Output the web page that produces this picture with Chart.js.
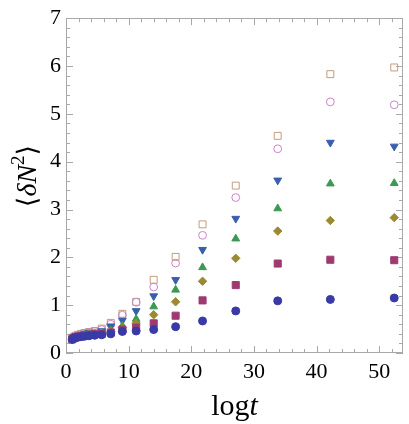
<!DOCTYPE html>
<html>
<head>
<meta charset="utf-8">
<script src="https://cdn.jsdelivr.net/npm/chart.js@4.4.1/dist/chart.umd.min.js"></script>
<style>
  html, body { margin: 0; padding: 0; background: #fff; }
  #box { width: 409px; height: 424px; }
</style>
</head>
<body>
<div id="box"><canvas id="grafico" width="409" height="424"></canvas></div>
<script>
// valores
const logT = [1.0, 1.24, 1.54, 1.91, 2.38, 2.96, 3.68, 4.58, 5.7, 7.15, 9.0, 11.2, 14.0, 17.5, 21.8, 27.1, 33.8, 42.2, 52.4];

const quadAberto = [0.31, 0.34, 0.36, 0.38, 0.40, 0.42, 0.44, 0.46, 0.51, 0.63, 0.82, 1.07, 1.53, 2.01, 2.69, 3.50, 4.54, 5.83, 5.97];
const circAberto = [0.30, 0.33, 0.35, 0.37, 0.39, 0.41, 0.43, 0.45, 0.49, 0.60, 0.79, 1.06, 1.38, 1.88, 2.46, 3.25, 4.27, 5.25, 5.19];
const trianBaixo = [0.30, 0.33, 0.35, 0.36, 0.38, 0.40, 0.42, 0.43, 0.46, 0.56, 0.68, 0.88, 1.19, 1.53, 2.16, 2.81, 3.61, 4.40, 4.32];
const trianCima  = [0.29, 0.32, 0.34, 0.35, 0.37, 0.38, 0.40, 0.41, 0.43, 0.47, 0.57, 0.71, 0.97, 1.32, 1.79, 2.39, 3.02, 3.54, 3.55];
const losango    = [0.29, 0.32, 0.33, 0.35, 0.36, 0.37, 0.39, 0.40, 0.42, 0.45, 0.53, 0.62, 0.80, 1.07, 1.50, 1.98, 2.55, 2.77, 2.83];
const quadrado   = [0.29, 0.31, 0.33, 0.34, 0.35, 0.36, 0.38, 0.39, 0.40, 0.43, 0.49, 0.53, 0.62, 0.78, 1.10, 1.42, 1.87, 1.95, 1.94];
const circulo    = [0.28, 0.31, 0.32, 0.33, 0.34, 0.35, 0.36, 0.37, 0.38, 0.40, 0.45, 0.46, 0.49, 0.55, 0.67, 0.88, 1.09, 1.12, 1.15];

const xTicks = [0, 10, 20, 30, 40, 50];
const yTicks = [0, 1, 2, 3, 4, 5, 6, 7];

const SERIF = '"Liberation Serif", "Times New Roman", serif';
const CINZA = '#a8a8a8';

function pontos(ys) {
    return ys.map((y, i) => ({ x: logT[i], y: y }));
}

function serie(ys, estilo, cor, cheio, raio, rot) {
    return {
        data: pontos(ys),
        pointStyle: estilo,
        pointRadius: raio,
        pointHoverRadius: raio,
        rotation: rot || 0,
        borderColor: cor,
        backgroundColor: cheio ? cor : 'rgba(255,255,255,0)',
        borderWidth: 1,
        showLine: false
    };
}

const moldura = {
    id: 'moldura',
    beforeDatasetsDraw(chart) {
        const { ctx, chartArea: a, scales: { x, y } } = chart;
        ctx.save();
        ctx.strokeStyle = CINZA;
        ctx.lineWidth = 1;
        ctx.strokeRect(Math.round(a.left) + 0.5, Math.round(a.top) + 0.5,
            Math.round(a.right - a.left) - 1, Math.round(a.bottom - a.top) - 1);
        ctx.beginPath();
        for (let v = 0; v <= 52; v += 2) {
            const px = Math.round(x.getPixelForValue(v)) + 0.5;
            const len = v % 10 === 0 ? 7 : 4;
            ctx.moveTo(px, a.bottom); ctx.lineTo(px, a.bottom - len);
            ctx.moveTo(px, a.top); ctx.lineTo(px, a.top + len);
        }
        for (let k = 0; k <= 35; k++) {
            const v = k / 5;
            const py = Math.round(y.getPixelForValue(v)) + 0.5;
            const len = k % 5 === 0 ? 7 : 4;
            ctx.moveTo(a.left, py); ctx.lineTo(a.left + len, py);
            ctx.moveTo(a.right, py); ctx.lineTo(a.right - len, py);
        }
        ctx.stroke();
        ctx.restore();
    },
    afterDraw(chart) {
        const { ctx, chartArea: a } = chart;
        ctx.save();
        ctx.fillStyle = '#000';
        ctx.textBaseline = 'alphabetic';

        // eixo x: log t
        const fN = '30px ' + SERIF, fI = 'italic 30px ' + SERIF;
        ctx.font = fN; const w1 = ctx.measureText('log').width;
        ctx.font = fI; const w2 = ctx.measureText('t').width;
        let x0 = (a.left + a.right) / 2 - (w1 + w2) / 2;
        ctx.font = fN; ctx.fillText('log', x0, 415);
        ctx.font = fI; ctx.fillText('t', x0 + w1, 415);

        // eixo y: ⟨δN²⟩
        const partes = [
            { t: '\u27E8', f: '27px "DejaVu Serif", ' + SERIF, dy: 0 },
            { t: '\u03B4N', f: 'italic 28px ' + SERIF, dy: 0 },
            { t: '2', f: '19px ' + SERIF, dy: -12 },
            { t: '\u27E9', f: '27px "DejaVu Serif", ' + SERIF, dy: 0 }
        ];
        let total = 0;
        partes.forEach(p => { ctx.font = p.f; p.w = ctx.measureText(p.t).width; total += p.w; });
        ctx.translate(36, 176);
        ctx.rotate(-Math.PI / 2);
        let cx = -total / 2;
        partes.forEach(p => { ctx.font = p.f; ctx.fillText(p.t, cx, p.dy); cx += p.w; });
        ctx.restore();
    }
};

new Chart(document.getElementById('grafico'), {
    type: 'scatter',
    data: {
        datasets: [
            serie(circulo, 'circle', '#3a3aa6', true, 4.0),
            serie(quadrado, 'rect', '#9e3a70', true, 5.0),
            serie(losango, 'rectRot', '#9a8a30', true, 4.2),
            serie(trianCima, 'triangle', '#3a9a52', true, 4.5),
            serie(trianBaixo, 'triangle', '#3a5eae', true, 4.5, 180),
            serie(circAberto, 'circle', '#cc82cc', false, 3.9),
            serie(quadAberto, 'rect', '#c29c7c', false, 4.9)
        ]
    },
    options: {
        responsive: false,
        devicePixelRatio: 1,
        animation: false,
        events: [],
        layout: { padding: { top: 12, right: 2, left: 0, bottom: 0 } },
        plugins: { legend: { display: false }, tooltip: { enabled: false } },
        scales: {
            x: {
                type: 'linear',
                min: 0,
                max: 53.8,
                grid: { display: false, drawTicks: false },
                border: { display: false },
                afterBuildTicks: (s) => { s.ticks = xTicks.map(v => ({ value: v })); },
                afterFit: (s) => { s.height = 71; },
                ticks: { color: '#000', font: { family: SERIF, size: 22 }, padding: 6, maxRotation: 0 }
            },
            y: {
                type: 'linear',
                min: 0,
                max: 7,
                grid: { display: false, drawTicks: false },
                border: { display: false },
                afterBuildTicks: (s) => { s.ticks = yTicks.map(v => ({ value: v })); },
                afterFit: (s) => { s.width = 66; },
                ticks: { color: '#000', font: { family: SERIF, size: 22 }, padding: 5 }
            }
        }
    },
    plugins: [moldura]
});
</script>
</body>
</html>
